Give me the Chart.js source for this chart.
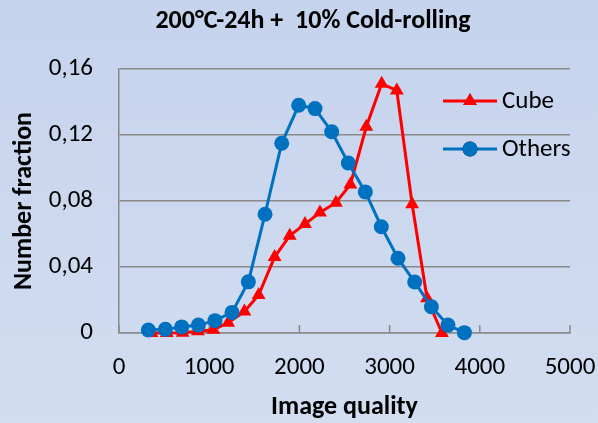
<!DOCTYPE html>
<html>
<head>
<meta charset="utf-8">
<script src="https://cdn.jsdelivr.net/npm/chart.js@4/dist/chart.umd.min.js"></script>
<style>
html,body{margin:0;padding:0;background:#c9d6ee;}
canvas{display:block;}
</style>
</head>
<body>
<canvas id="c" width="598" height="423"></canvas>
<script>
const chartTitle = '200°C-24h +  10% Cold-rolling';
const xAxisTitle = 'Image quality';
const yAxisTitle = 'Number fraction';

const cubeLabel = 'Cube';
const cubeX = [360, 530, 705, 875, 1045, 1210, 1390, 1548, 1725, 1893, 2062, 2228, 2405, 2565, 2742, 2912, 3080, 3250, 3415, 3580];
const cubeY = [0, 0, 0.0002, 0.001, 0.002, 0.0062, 0.013, 0.023, 0.046, 0.059, 0.066, 0.073, 0.079, 0.090, 0.125, 0.151, 0.147, 0.078, 0.021, 0];

const othersLabel = 'Others';
const othersX = [325, 514, 695, 880, 1064, 1253, 1434, 1619, 1804, 1992, 2173, 2358, 2542, 2731, 2908, 3093, 3278, 3463, 3647, 3829];
const othersY = [0.0018, 0.0022, 0.0037, 0.0048, 0.0075, 0.0125, 0.031, 0.072, 0.115, 0.138, 0.136, 0.122, 0.103, 0.0855, 0.0644, 0.0453, 0.0309, 0.0159, 0.0048, 0.0002];

const xTickLabels = ['0', '1000', '2000', '3000', '4000', '5000'];
const yTickLabels = ['0', '0,04', '0,08', '0,12', '0,16'];

const FONT = 'Carlito, Lato, sans-serif';
const GRID = '#8a8a8a';

const toPts = (xs, ys) => xs.map((x, i) => ({x: x, y: ys[i]}));

const bgPlugin = {
  id: 'bg',
  beforeDraw(chart) {
    const {ctx, width, height} = chart;
    const g = ctx.createLinearGradient(0, 0, 0, height);
    g.addColorStop(0, '#c5d3ed');
    g.addColorStop(1, '#d2ddf0');
    ctx.save();
    ctx.fillStyle = g;
    ctx.fillRect(0, 0, width, height);
    ctx.restore();
  }
};

const tickPlugin = {
  id: 'innerTicks',
  beforeDatasetsDraw(chart) {
    const {ctx} = chart;
    const xs = chart.scales.x;
    const b = chart.chartArea.bottom;
    ctx.save();
    ctx.strokeStyle = GRID;
    ctx.lineWidth = 1.5;
    xs.ticks.forEach(t => {
      const px = xs.getPixelForValue(t.value);
      ctx.beginPath();
      ctx.moveTo(px, b - 8);
      ctx.lineTo(px, b);
      ctx.stroke();
    });
    ctx.restore();
  }
};

const titlePlugin = {
  id: 'customTitle',
  afterDraw(chart) {
    const {ctx} = chart;
    ctx.save();
    ctx.fillStyle = '#000';
    ctx.font = 'bold 26px ' + FONT;
    ctx.textAlign = 'center';
    ctx.textBaseline = 'middle';
    ctx.fillText(chartTitle, 313, 21);
    ctx.restore();
  }
};

const legendPlugin = {
  id: 'customLegend',
  afterDraw(chart) {
    const {ctx} = chart;
    const rows = [{ds: chart.data.datasets[0], y: 101}, {ds: chart.data.datasets[1], y: 149}];
    ctx.save();
    rows.forEach(r => {
      ctx.strokeStyle = r.ds.borderColor;
      ctx.lineWidth = r.ds.borderWidth;
      ctx.beginPath();
      ctx.moveTo(443, r.y);
      ctx.lineTo(497, r.y);
      ctx.stroke();
      Chart.helpers.drawPoint(ctx, {
        pointStyle: r.ds.pointStyle,
        radius: r.ds.pointRadius,
        borderWidth: 0
      }, 470, r.y);
      ctx.fillStyle = r.ds.pointBackgroundColor;
      ctx.fill();
      ctx.fillStyle = '#000';
      ctx.font = '25px ' + FONT;
      ctx.textAlign = 'left';
      ctx.textBaseline = 'middle';
      ctx.fillText(r.ds.label, 502, r.y + 1);
    });
    ctx.restore();
  }
};

new Chart(document.getElementById('c'), {
  type: 'scatter',
  data: {
    datasets: [
      {
        label: cubeLabel,
        data: toPts(cubeX, cubeY),
        showLine: true,
        borderColor: '#ff0000',
        backgroundColor: '#ff0000',
        pointBackgroundColor: '#ff0000',
        pointBorderColor: '#ff0000',
        borderWidth: 3,
        pointStyle: 'triangle',
        pointRadius: 8,
        pointBorderWidth: 0,
        order: 1,
        clip: false
      },
      {
        label: othersLabel,
        data: toPts(othersX, othersY),
        showLine: true,
        borderColor: '#0070c0',
        backgroundColor: '#0070c0',
        pointBackgroundColor: '#0070c0',
        pointBorderColor: '#0070c0',
        borderWidth: 3,
        pointStyle: 'circle',
        pointRadius: 7.5,
        pointBorderWidth: 0,
        order: 0,
        clip: false
      }
    ]
  },
  options: {
    responsive: false,
    animation: false,
    events: [],
    layout: {padding: {top: 69, right: 28, bottom: 0, left: 0}},
    plugins: {
      legend: {display: false},
      title: {display: false},
      tooltip: {enabled: false}
    },
    scales: {
      x: {
        type: 'linear',
        min: 0,
        max: 5000,
        afterFit(s) { s.height = 90; s.paddingRight = 0; s.paddingLeft = 0; },
        grid: {display: false, drawTicks: false},
        border: {display: true, color: GRID, width: 1.5},
        ticks: {
          stepSize: 1000,
          padding: 20,
          color: '#000',
          font: {family: FONT, size: 25},
          maxRotation: 0,
          callback: (v, i) => xTickLabels[i]
        },
        title: {
          display: true,
          text: xAxisTitle,
          color: '#000',
          font: {family: FONT, size: 26, weight: 'bold'},
          padding: {top: 0, bottom: 0}
        }
      },
      y: {
        type: 'linear',
        min: 0,
        max: 0.16,
        afterFit(s) { s.width = 119; s.paddingTop = 0; s.paddingBottom = 0; },
        grid: {color: GRID, lineWidth: 1.5, drawTicks: false},
        border: {display: true, color: GRID, width: 1.5},
        ticks: {
          stepSize: 0.04,
          padding: 26,
          color: '#000',
          font: {family: FONT, size: 25},
          callback: (v, i) => yTickLabels[i]
        },
        title: {
          display: true,
          text: yAxisTitle,
          color: '#000',
          font: {family: FONT, size: 26, weight: 'bold'},
          padding: {top: 9, bottom: 0}
        }
      }
    }
  },
  plugins: [bgPlugin, tickPlugin, titlePlugin, legendPlugin]
});
</script>
</body>
</html>
